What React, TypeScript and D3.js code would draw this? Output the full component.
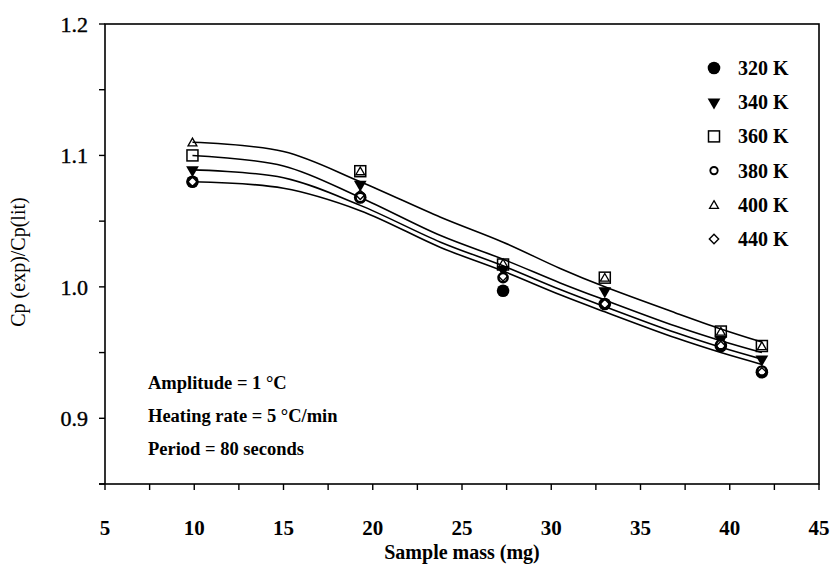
import React from "react";
import * as d3 from "d3";

const masses = [9.9, 19.3, 27.3, 33.0, 39.5, 41.8];
const seriesNames = ["320 K", "340 K", "360 K", "380 K", "400 K", "440 K"];
const s320 = [1.080, 1.068, 0.997, 0.987, 0.955, 0.935];
const s340 = [1.089, 1.078, 1.013, 0.997, 0.960, 0.945];
const s360 = [1.100, 1.088, 1.017, 1.007, 0.966, 0.955];
const s380 = [1.080, 1.068, 1.007, 0.987, 0.956, 0.936];
const s400 = [1.110, 1.088, 1.018, 1.007, 0.966, 0.955];
const s440 = [1.080, 1.070, 1.008, 0.987, 0.955, 0.935];

const curveMasses = [9.9, 15, 19.3, 23.8, 27.3, 30.5, 33, 37, 39.5, 41.8];
const fit1 = [1.110, 1.103, 1.080, 1.053, 1.034, 1.014, 1.000, 0.980, 0.968, 0.958];
const fit2 = [1.100, 1.092, 1.068, 1.039, 1.021, 1.003, 0.990, 0.970, 0.959, 0.950];
const fit3 = [1.089, 1.083, 1.062, 1.034, 1.016, 0.998, 0.985, 0.965, 0.954, 0.945];
const fit4 = [1.080, 1.075, 1.058, 1.030, 1.012, 0.994, 0.981, 0.961, 0.950, 0.941];

const xTickLabels = [5, 10, 15, 20, 25, 30, 35, 40, 45];
const yTickLabels = [0.9, 1.0, 1.1, 1.2];
const annotations = ["Amplitude = 1 °C", "Heating rate = 5 °C/min", "Period = 80 seconds"];

const W = 835, H = 564;
const L = 105, R = 819, T = 24, B = 484;

const FONT = "'Liberation Serif', 'Times New Roman', serif";

function Marker({ kind, x, y, scale = 1 }: { kind: number; x: number; y: number; scale?: number }) {
  const s = scale;
  switch (kind) {
    case 0:
      return <circle cx={x} cy={y} r={6.3 * s} fill="#000" />;
    case 1: {
      const p = d3.symbol().type(d3.symbolTriangle).size(70 * s * s)();
      return <path d={p || ""} transform={`translate(${x},${y}) rotate(180)`} fill="#000" />;
    }
    case 2:
      return <rect x={x - 5.5 * s} y={y - 5.5 * s} width={11 * s} height={11 * s} fill="none" stroke="#000" strokeWidth={1.5} />;
    case 3:
      return <circle cx={x} cy={y} r={4.6 * s} fill="#fff" stroke="#000" strokeWidth={2.4 * s} />;
    case 4: {
      const p = d3.symbol().type(d3.symbolTriangle).size(34 * s * s)();
      return <path d={p || ""} transform={`translate(${x},${y + 1})`} fill="none" stroke="#000" strokeWidth={1.3} />;
    }
    default: {
      const p = d3.symbol().type(d3.symbolDiamond2).size(55 * s * s)();
      return <path d={p || ""} transform={`translate(${x},${y})`} fill="none" stroke="#000" strokeWidth={1.4} />;
    }
  }
}

export default function App() {
  const x = d3.scaleLinear().domain([5, 45]).range([L, R]);
  const y = d3.scaleLinear().domain([0.85, 1.2]).range([B, T]);
  const series = [s320, s340, s360, s380, s400, s440];
  const fits = [fit1, fit2, fit3, fit4];
  const line = d3
    .line<number>()
    .x((_, i) => x(curveMasses[i]))
    .y((d) => y(d))
    .curve(d3.curveCatmullRom.alpha(0.5));

  const xMinor = d3.range(5, 45.01, 2.5);
  const yMinor = d3.range(0.85, 1.2001, 0.05);
  const drawOrder = [0, 1, 3, 5, 2, 4];

  return (
    <svg width={W} height={H} style={{ position: "absolute", left: 0, top: 0, background: "#fff" }}>
      <rect x={0} y={0} width={W} height={H} fill="#fff" />
      {/* frame */}
      <rect x={L} y={T} width={R - L} height={B - T} fill="none" stroke="#000" strokeWidth={1.6} />
      <line x1={L - 6} x2={L} y1={B} y2={B} stroke="#000" strokeWidth={1.6} />
      {/* y ticks */}
      {yMinor.map((v, i) => (
        <line key={"yt" + i} x1={L - 6} x2={L} y1={y(v)} y2={y(v)} stroke="#000" strokeWidth={1.4} />
      ))}
      {yTickLabels.map((v) => (
        <text key={"yl" + v} x={L - 17} y={y(v)} dy="0.35em" textAnchor="end" fontFamily={FONT} fontSize={22} fill="#000" stroke="#000" strokeWidth={0.4}>
          {v.toFixed(1)}
        </text>
      ))}
      {/* x ticks */}
      {xMinor.map((v, i) => (
        <line key={"xt" + i} x1={x(v)} x2={x(v)} y1={B} y2={B + 6} stroke="#000" strokeWidth={1.4} />
      ))}
      {xTickLabels.map((v) => (
        <text key={"xl" + v} x={x(v)} y={B + 51} textAnchor="middle" fontFamily={FONT} fontWeight="bold" fontSize={21} fill="#000">
          {v}
        </text>
      ))}
      <text x={(L + R) / 2} y={559} textAnchor="middle" fontFamily={FONT} fontWeight="bold" fontSize={20} fill="#000">
        Sample mass (mg)
      </text>
      <text
        transform={`translate(25,${(T + B) / 2 + 8}) rotate(-90)`}
        textAnchor="middle"
        fontFamily={FONT}
        fontSize={20}
        fill="#000"
      >
        Cp (exp)/Cp(lit)
      </text>
      {/* fitted curves */}
      {fits.map((f, i) => (
        <path key={"fit" + i} d={line(f) || ""} fill="none" stroke="#000" strokeWidth={1.6} />
      ))}
      {/* data markers */}
      {drawOrder.map((si) =>
        series[si].map((v, j) => <Marker key={`m${si}-${j}`} kind={si} x={x(masses[j])} y={y(v)} />)
      )}
      {/* legend */}
      {seriesNames.map((name, i) => (
        <g key={"lg" + i}>
          <Marker kind={i} x={714} y={68 + i * 34.2} scale={i === 3 ? 0.8 : 1} />
          <text x={738} y={68 + i * 34.2} dy="0.35em" fontFamily={FONT} fontWeight="bold" fontSize={20} fill="#000">
            {name}
          </text>
        </g>
      ))}
      {/* annotations */}
      {annotations.map((t, i) => (
        <text key={"an" + i} x={148} y={383 + i * 33} dy="0.35em" fontFamily={FONT} fontWeight="bold" fontSize={18.5} fill="#000">
          {t}
        </text>
      ))}
    </svg>
  );
}
